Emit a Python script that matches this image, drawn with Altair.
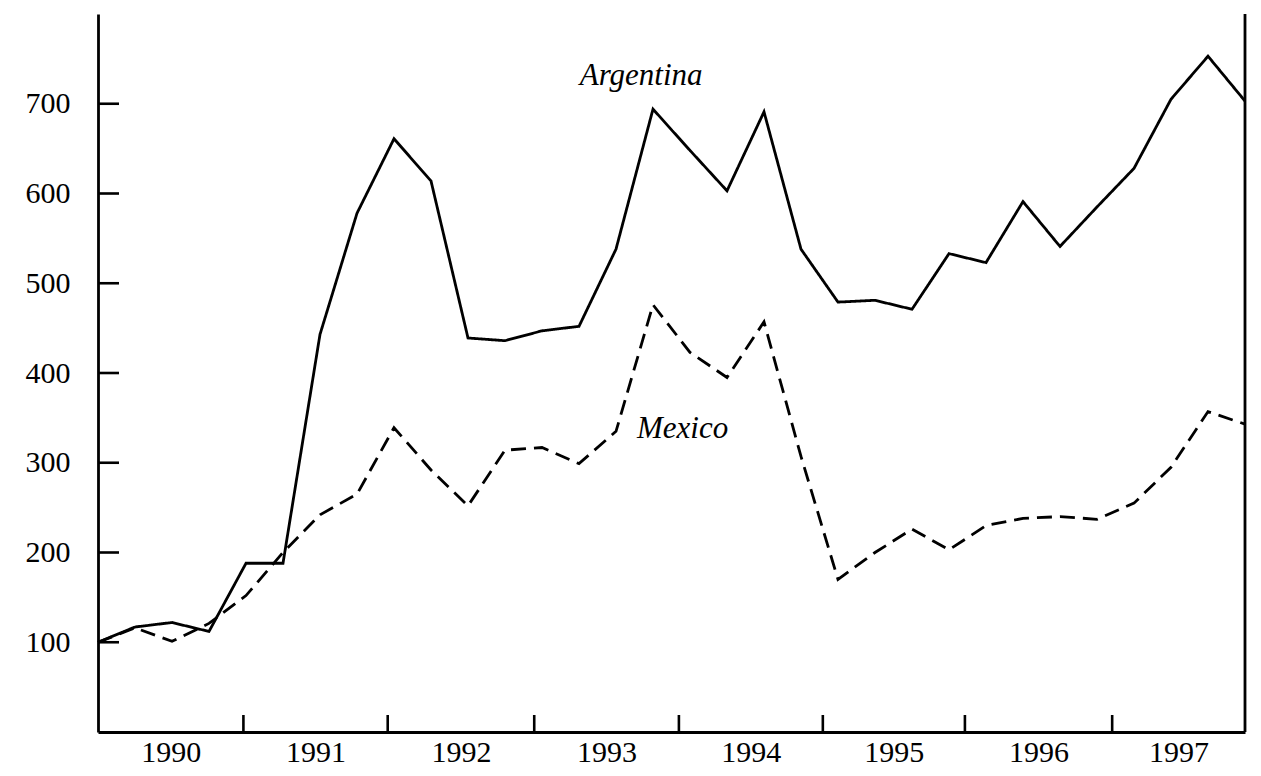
import altair as alt
import pandas as pd

# ---- data (quarterly index 0 = 1990Q1 ... 31 = 1997Q4) ----
years = ["1990", "1991", "1992", "1993", "1994", "1995", "1996", "1997"]
# year boundaries on the quarter-index axis, as drawn in the reference
year_starts = [0, 3.93, 7.83, 11.79, 15.7, 19.59, 23.43, 27.41]
x_end = 31

argentina = [100, 117, 122, 112, 188, 188, 443, 578, 661, 614, 439, 436,
             447, 452, 538, 694, 648, 603, 691, 538, 479, 481, 471, 533,
             523, 591, 541, 585, 628, 705, 753, 703]
mexico = [100, 116, 101, 121, 152, 200, 242, 265, 339, 292, 252, 314,
          317, 299, 335, 476, 423, 395, 457, 307, 170, 200, 226, 203,
          230, 238, 240, 237, 255, 295, 357, 343]

y_ticks = [100, 200, 300, 400, 500, 600, 700]

series_labels = ["Argentina", "Mexico"]
label_t = [14.68, 15.8]
label_v = [721, 327.6]

# ---- build tables ----
rows = []
for i, (a, m) in enumerate(zip(argentina, mexico)):
    rows.append({"t": i, "value": a, "series": "Argentina"})
    rows.append({"t": i, "value": m, "series": "Mexico"})
df = pd.DataFrame(rows)

W, H = 1147, 718
FONT = "Liberation Serif"

xscale = alt.Scale(domain=[0, x_end], nice=False, zero=False)
yscale = alt.Scale(domain=[0, 800], nice=False, zero=False)

bounds = year_starts + [x_end]
mids = [(bounds[i] + bounds[i + 1]) / 2 for i in range(len(years))]
expr = ""
for b, yname in zip(bounds[1:-1], years[:-1]):
    expr += f"datum.value < {b} ? '{yname}' : "
expr += f"'{years[-1]}'"

xaxis = alt.Axis(values=mids, labelExpr=expr, title=None, ticks=False,
                 grid=False, labelPadding=5, domainWidth=2.8,
                 domainColor="black", labelFont=FONT, labelFontSize=30,
                 labelColor="black", labelFlush=False)
yaxis = alt.Axis(values=y_ticks, title=None, ticks=False, grid=False,
                 labelPadding=28, domainWidth=2.8, domainColor="black",
                 labelFont=FONT, labelFontSize=30, labelColor="black")

lines = alt.Chart(df).mark_line(color="black", strokeWidth=2.8).encode(
    x=alt.X("t:Q", scale=xscale, axis=xaxis),
    y=alt.Y("value:Q", scale=yscale, axis=yaxis),
    strokeDash=alt.StrokeDash("series:N",
                              scale=alt.Scale(domain=["Argentina", "Mexico"],
                                              range=[[1, 0], [15, 8]]),
                              legend=None),
    detail="series:N",
)

xticks = alt.Chart(pd.DataFrame({"b": year_starts[1:]})).mark_rule(
    color="black", strokeWidth=2.6
).encode(
    x=alt.X("b:Q", scale=xscale, axis=xaxis),
    y=alt.value(H),
    y2=alt.value(H - 17),
)

yticks = alt.Chart(pd.DataFrame({"v": y_ticks})).mark_rule(
    color="black", strokeWidth=2.6
).encode(
    y=alt.Y("v:Q", scale=yscale, axis=yaxis),
    x=alt.value(0),
    x2=alt.value(21),
)

right_border = alt.Chart(pd.DataFrame({"v": [0]})).mark_rule(
    color="black", strokeWidth=2.8
).encode(
    x=alt.value(W),
    y=alt.value(0),
    y2=alt.value(H),
)

ann = pd.DataFrame({"label": series_labels, "t": label_t, "value": label_v})
labels = alt.Chart(ann).mark_text(
    font=FONT, fontStyle="italic", fontSize=31, color="black",
    baseline="alphabetic", align="center"
).encode(
    x=alt.X("t:Q", scale=xscale, axis=xaxis),
    y=alt.Y("value:Q", scale=yscale, axis=yaxis),
    text="label:N",
)

chart = alt.layer(lines, xticks, yticks, right_border, labels).properties(
    width=W, height=H,
    autosize=alt.AutoSizeParams(type="none"),
    padding={"left": 90, "top": 6, "right": 8, "bottom": 36},
    background="white",
).configure_view(stroke=None)

chart.save("out.html", embed_options={"renderer": "svg", "actions": False})
